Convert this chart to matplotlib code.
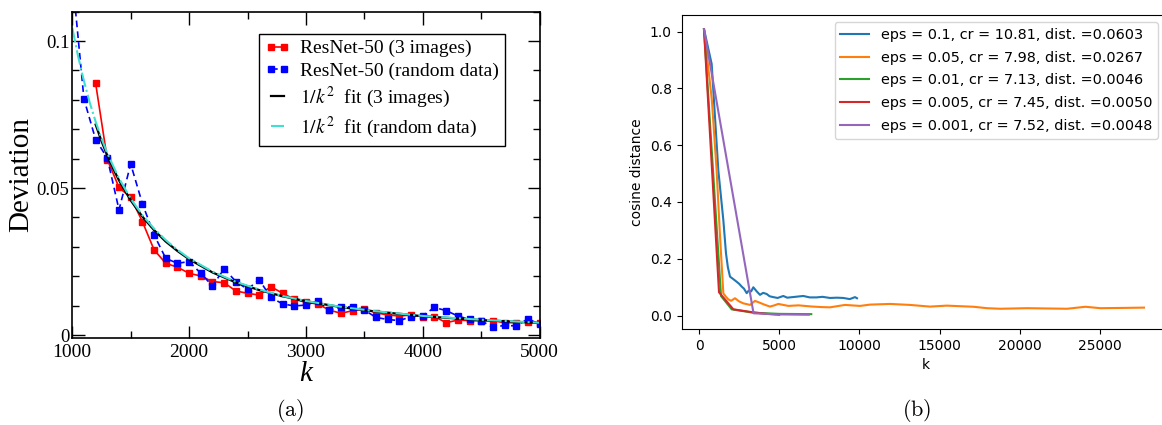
import matplotlib
matplotlib.use('Agg')
import matplotlib.pyplot as plt
from matplotlib.ticker import MultipleLocator, FuncFormatter

# (a) deviation vs k
k_3img = [1200, 1300, 1400, 1500, 1600, 1700, 1800, 1900, 2000, 2100, 2200, 2300, 2400, 2500,
          2600, 2700, 2800, 2900, 3000, 3100, 3200, 3300, 3400, 3500, 3600, 3700, 3800, 3900,
          4000, 4100, 4200, 4300, 4400, 4500, 4600, 4700, 4800, 4900, 5000]
dev_3img = [0.0856, 0.0597, 0.0502, 0.0468, 0.0386, 0.0290, 0.0244, 0.0231, 0.0210, 0.0201,
            0.0182, 0.0178, 0.0150, 0.0142, 0.0136, 0.0165, 0.0142, 0.0122, 0.0111, 0.0106,
            0.0085, 0.0074, 0.0083, 0.0089, 0.0076, 0.0068, 0.0065, 0.0068, 0.0063, 0.0063,
            0.0042, 0.0051, 0.0049, 0.0048, 0.0049, 0.0042, 0.0042, 0.0045, 0.0040]
k_rand = [1000, 1100, 1200, 1300, 1400, 1500, 1600, 1700, 1800, 1900, 2000, 2100, 2200, 2300,
          2400, 2500, 2600, 2700, 2800, 2900, 3000, 3100, 3200, 3300, 3400, 3500, 3600, 3700,
          3800, 3900, 4000, 4100, 4200, 4300, 4400, 4500, 4600, 4700, 4800, 4900, 5000]
dev_rand = [0.1220, 0.0803, 0.0665, 0.0602, 0.0426, 0.0582, 0.0447, 0.0341, 0.0261, 0.0244,
            0.0250, 0.0210, 0.0167, 0.0226, 0.0182, 0.0156, 0.0188, 0.0128, 0.0106, 0.0099,
            0.0102, 0.0116, 0.0085, 0.0094, 0.0097, 0.0085, 0.0060, 0.0053, 0.0049, 0.0063,
            0.0066, 0.0094, 0.0083, 0.0065, 0.0053, 0.0049, 0.0026, 0.0033, 0.0031, 0.0055,
            0.0037]
k_fit3 = [1200, 1250, 1300, 1350, 1400, 1500, 1600, 1700, 1800, 1900, 2000, 2200, 2400, 2600,
          2800, 3000, 3300, 3600, 4000, 4500, 5000]
fit3 = [0.0716, 0.0660, 0.0610, 0.0566, 0.0526, 0.0458, 0.0403, 0.0357, 0.0318, 0.0286,
        0.0258, 0.0213, 0.0179, 0.0153, 0.0132, 0.0115, 0.0095, 0.0080, 0.0064, 0.0051, 0.0041]
k_fitr = [1000, 1050, 1100, 1150, 1200, 1250, 1300, 1400, 1500, 1600, 1700, 1800, 1900, 2000,
          2200, 2400, 2600, 2800, 3000, 3300, 3600, 4000, 4500, 5000]
fitr = [0.1045, 0.0948, 0.0864, 0.0790, 0.0726, 0.0669, 0.0618, 0.0533, 0.0464, 0.0408,
        0.0362, 0.0323, 0.0290, 0.0261, 0.0216, 0.0181, 0.0155, 0.0133, 0.0116, 0.0096,
        0.0081, 0.0065, 0.0052, 0.0042]

# (b) cosine distance vs k
k_e1 = [312, 790, 1205, 1517, 1683, 1800, 1933, 2100, 2350, 2500, 2662, 2800, 2974, 3100,
        3250, 3387, 3600, 3803, 4000, 4220, 4400, 4632, 4900, 5256, 5500, 5670, 6000, 6500,
        6900, 7330, 7700, 8167, 8600, 8998, 9400, 9726, 9850]
cd_e1 = [1.008, 0.886, 0.511, 0.336, 0.219, 0.170, 0.137, 0.130, 0.119, 0.112, 0.102, 0.095,
         0.079, 0.088, 0.085, 0.0996, 0.085, 0.073, 0.080, 0.076, 0.068, 0.065, 0.062, 0.069,
         0.063, 0.064, 0.066, 0.069, 0.064, 0.064, 0.066, 0.062, 0.063, 0.062, 0.058, 0.065,
         0.061]
k_e05 = [312, 800, 1100, 1300, 1517, 1700, 1829, 2000, 2244, 2500, 2764, 3000, 3180, 3491,
         3800, 4100, 4426, 4700, 4945, 5570, 6200, 7000, 7600, 8167, 9102, 10040, 10660,
         11910, 13150, 14400, 15450, 17120, 17950, 18780, 20450, 22950, 24090, 25030, 26500,
         27740]
cd_e05 = [1.008, 0.76, 0.51, 0.29, 0.078, 0.065, 0.057, 0.052, 0.061, 0.050, 0.043, 0.040,
          0.0375, 0.0516, 0.045, 0.038, 0.0316, 0.036, 0.041, 0.034, 0.036, 0.032, 0.030,
          0.029, 0.0375, 0.034, 0.0386, 0.041, 0.0375, 0.0316, 0.035, 0.031, 0.026, 0.024,
          0.026, 0.024, 0.031, 0.026, 0.027, 0.028]
k_e01 = [312, 1372, 2038, 3400, 5000, 7000]
cd_e01 = [1.008, 0.069, 0.022, 0.010, 0.006, 0.005]
k_e005 = [312, 1247, 2140, 3300, 4200, 5000]
cd_e005 = [1.008, 0.082, 0.022, 0.012, 0.006, 0.003]
k_e001 = [312, 3400, 5000, 6840]
cd_e001 = [1.008, 0.008, 0.004, 0.003]

labels_b = ['eps = 0.1, cr = 10.81, dist. =0.0603',
            'eps = 0.05, cr = 7.98, dist. =0.0267',
            'eps = 0.01, cr = 7.13, dist. =0.0046',
            'eps = 0.005, cr = 7.45, dist. =0.0050',
            'eps = 0.001, cr = 7.52, dist. =0.0048']

serif = 'Liberation Serif'
W, H = 1162, 425

fig = plt.figure(figsize=(11.62, 4.25), dpi=100)

# ---- panel (a)
ax = fig.add_axes([0.0622, 0.2047, 0.4022, 0.7678])
ax.plot(k_3img, dev_3img, color='red', lw=1.2, marker='s', ms=4, label='ResNet-50 (3 images)')
ax.plot(k_rand, dev_rand, color='blue', lw=1.2, ls=(0, (4, 2.5)), marker='s', ms=4,
        label='ResNet-50 (random data)')
ax.plot(k_fit3, fit3, color='black', lw=1.6, label=r'$1/k^2$  fit (3 images)')
ax.plot(k_fitr, fitr, color='#40e0d0', lw=1.5, ls=(0, (7, 1.5, 1, 1.5)),
        label=r'$1/k^2$  fit (random data)')
ax.set_xlim(1000, 5000)
ax.set_ylim(-0.001, 0.11)
ax.xaxis.set_major_locator(MultipleLocator(1000))
ax.xaxis.set_minor_locator(MultipleLocator(500))
ax.yaxis.set_major_locator(MultipleLocator(0.05))
ax.yaxis.set_minor_locator(MultipleLocator(0.01))
ax.yaxis.set_major_formatter(FuncFormatter(lambda v, p: '%g' % round(v, 4)))
ax.tick_params(which='both', direction='in', top=True, right=True, width=1)
ax.tick_params(which='major', length=9)
ax.tick_params(which='minor', length=5)
ax.tick_params(axis='x', labelsize=14, pad=4.5)
ax.tick_params(axis='y', labelsize=13.5, pad=2)
for lab in ax.get_xticklabels() + ax.get_yticklabels():
    lab.set_family(serif)
for s in ax.spines.values():
    s.set_linewidth(1.2)
ax.set_ylabel('Deviation', family=serif, fontsize=21)
ax.yaxis.set_label_coords(-0.082, 0.5)
ax.set_xlabel('k', family=serif, style='italic', fontsize=21)
ax.xaxis.set_label_coords(0.5, -0.07)
leg = ax.legend(loc='upper left', bbox_to_anchor=(0.3995, 0.9317), borderaxespad=0,
                prop={'family': serif, 'size': 14, 'math_fontfamily': 'stix'},
                fancybox=False, framealpha=1, edgecolor='black', numpoints=2,
                handlelength=1.3, handletextpad=0.5, labelspacing=0.25, borderpad=0.3)
leg.get_frame().set_linewidth(1.0)

# ---- panel (b)
bx = fig.add_axes([681.6 / W, 0.2259, 488.4 / W, 0.7388])
bx.plot(k_e1, cd_e1, label=labels_b[0])
bx.plot(k_e05, cd_e05, label=labels_b[1])
bx.plot(k_e01, cd_e01, label=labels_b[2])
bx.plot(k_e005, cd_e005, label=labels_b[3])
bx.plot(k_e001, cd_e001, label=labels_b[4])
bx.set_xlim(-1085, 29364)
bx.set_xlabel('k')
bx.set_ylabel('cosine distance')
bx.legend(loc='upper right', bbox_to_anchor=(1158 / W, 1 - 22.3 / H),
          bbox_transform=fig.transFigure, borderaxespad=0, fontsize=10.4, labelspacing=0.6)

fig.text(290 / W, 1 - 410 / H, r'$\mathrm{(a)}$', fontsize=16, math_fontfamily='cm',
         ha='center', va='center')
fig.text(917 / W, 1 - 410 / H, r'$\mathrm{(b)}$', fontsize=16, math_fontfamily='cm',
         ha='center', va='center')

fig.savefig('out.png', dpi=100)
